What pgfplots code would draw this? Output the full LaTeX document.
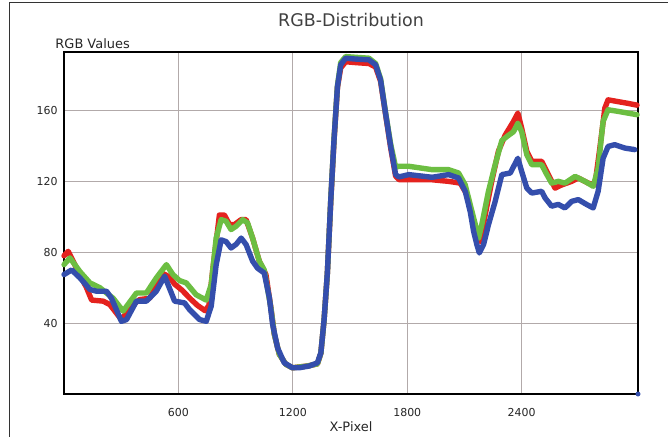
\documentclass[border=0pt]{standalone}
\usepackage{pgfplots}
\pgfplotsset{compat=1.18}
\usepackage{fontspec}
\setmainfont{DejaVu Sans}
\definecolor{rr}{RGB}{228,34,30}
\definecolor{gg}{RGB}{108,190,66}
\definecolor{bb}{RGB}{52,78,172}
\definecolor{gridc}{RGB}{178,170,170}
\begin{document}
\begin{tikzpicture}
\useasboundingbox (0,0) rectangle (668bp,437bp);
\fill[white] (0,0) rectangle (668bp,437bp);
\draw[black!80, line width=1bp] (9bp,0) -- (9bp,434bp) -- (668bp,434bp);
\begin{axis}[
  at={(64bp,43bp)}, anchor=south west,
  scale only axis, width=574bp, height=342bp,
  xmin=0, xmax=3010, ymin=0, ymax=193,
  xtick={600,1200,1800,2400}, ytick={40,80,120,160},
  grid=major, major grid style={color=gridc, line width=0.9bp},
  axis line style={black, line width=1.1bp},
  major tick length=0,
  /pgf/number format/assume math mode=true,
  /pgf/number format/set thousands separator={},
  tick label style={font=\fontsize{11}{13}\selectfont, text=black!85},
  xticklabel style={yshift=-11bp},
  yticklabel style={xshift=-3bp},
  title={RGB-Distribution},
  title style={font=\fontsize{17.5}{20}\selectfont, text=black!75, at={(axis description cs:0.5,1)}, anchor=base, yshift=20bp},
  xlabel={X-Pixel},
  xlabel style={font=\fontsize{13}{15}\selectfont, text=black!85, at={(axis description cs:0.5,0)}, anchor=base, yshift=-38bp},
  ylabel={RGB Values},
  ylabel style={font=\fontsize{13}{15}\selectfont, text=black!85, rotate=-90, anchor=base west, at={(axis description cs:-0.021,1.01)}},
  every axis plot/.append style={line width=5.4bp, line join=round, line cap=round},
  clip=false,
]
\addplot[rr] coordinates {
(0,78) (22,80.5) (66,71) (118,60) (145,53) (205,52.4) (240,50.5) (301,42) (354,49.6) (397,53.3) (449,54) (519,68) (554,66) (580,62) (620,58.5) (660,54) (700,50) (740,47) (760,50) (780,70) (798,86) (815,101) (841,101) (868,95.6) (894,95.6) (929,98.4) (955,98.4) (989,88) (1024,75) (1059,67.4) (1085,48.6) (1103,33.6) (1129,22.4) (1164,16.7) (1198,14.8) (1277,15.8) (1329,17) (1347,23) (1364,42) (1381,68) (1399,109) (1416,143) (1434,173) (1451,184) (1477,187.5) (1530,187) (1599,186.5) (1634,184.5) (1660,176.5) (1686,158) (1713,139) (1739,123) (1756,121) (1808,121) (1930,120.9) (2017,120) (2078,119) (2113,112.5) (2139,101.2) (2165,90) (2183,86) (2209,101.2) (2243,120) (2278,137) (2313,146) (2357,153.8) (2380,158.5) (2400,150) (2427,136.9) (2453,131.3) (2505,131.3) (2540,123.8) (2575,116.2) (2610,118) (2662,120) (2697,121.9) (2749,119) (2784,118) (2810,138.8) (2836,161.3) (2853,166) (2905,165) (2958,164) (3005,163)
};
\addplot[gg] coordinates {
(0,73) (31,76.8) (84,69) (136,62.7) (188,60) (258,54) (310,46.8) (380,57) (432,57) (484,65.5) (537,73) (571,67.4) (606,64) (641,62.7) (693,56) (746,53) (772,61.8) (798,88) (824,98.4) (850,97.5) (876,92.8) (903,94.7) (937,98.4) (963,96.5) (989,88) (1024,75) (1050,70) (1085,48.6) (1103,33.6) (1129,22.4) (1164,16.7) (1198,14.8) (1277,15.8) (1329,17) (1347,23) (1364,42) (1381,68) (1399,110) (1416,144) (1434,174) (1451,187) (1477,190.4) (1530,190) (1599,189.5) (1634,186.5) (1660,178) (1686,159) (1713,141) (1739,128) (1756,128.5) (1808,128.5) (1930,126.6) (2017,126.6) (2069,124.7) (2104,118) (2130,106.9) (2157,95.6) (2174,88) (2191,95.6) (2226,114.4) (2261,129.4) (2296,143) (2331,146) (2357,148) (2380,152.8) (2400,148) (2427,135) (2453,129.4) (2505,129.4) (2523,125.6) (2557,119) (2592,120) (2627,119) (2680,122.8) (2732,120) (2775,117.2) (2801,127.5) (2827,153.8) (2853,160.4) (2905,159.5) (2958,158.5) (3005,157.6)
};
\addplot[bb] coordinates {
(0,67.4) (40,70) (84,65.5) (136,59) (171,58) (223,58) (249,54) (301,41) (328,42) (380,52.4) (432,52.4) (484,58) (528,66.5) (563,57) (580,52.4) (632,51.4) (658,47.7) (711,42) (746,41) (772,49.6) (798,73) (824,87) (850,86) (876,82.4) (903,84.5) (929,88) (955,84.3) (989,75) (1015,71) (1050,68.3) (1077,54.3) (1094,39.3) (1120,26) (1155,17.6) (1198,14.8) (1233,14.8) (1286,15.8) (1329,17.6) (1347,23.3) (1364,42) (1381,68.3) (1399,109.7) (1416,143.5) (1434,173.5) (1451,185.8) (1477,189.5) (1530,189) (1599,188.6) (1634,185.8) (1660,177.3) (1686,158.5) (1713,139.7) (1739,123.8) (1756,122.5) (1808,123.8) (1930,122.3) (2017,123.8) (2069,121.9) (2104,114.4) (2130,103) (2148,91.8) (2165,84.3) (2178,79.6) (2200,84.3) (2226,95.6) (2261,108.7) (2296,123.8) (2340,124.7) (2380,133) (2400,125.6) (2427,116.2) (2453,113.4) (2505,114.4) (2523,110.6) (2557,106) (2592,107) (2627,105) (2662,108.7) (2697,109.7) (2740,107) (2775,105) (2801,114.4) (2827,133) (2853,139.7) (2888,140.7) (2940,138.8) (2993,137.9)
};
\addplot[bb, only marks, mark=*, mark size=2.2bp, line width=0.5bp] coordinates {(3010,0)};
\end{axis}
\end{tikzpicture}
\end{document}
